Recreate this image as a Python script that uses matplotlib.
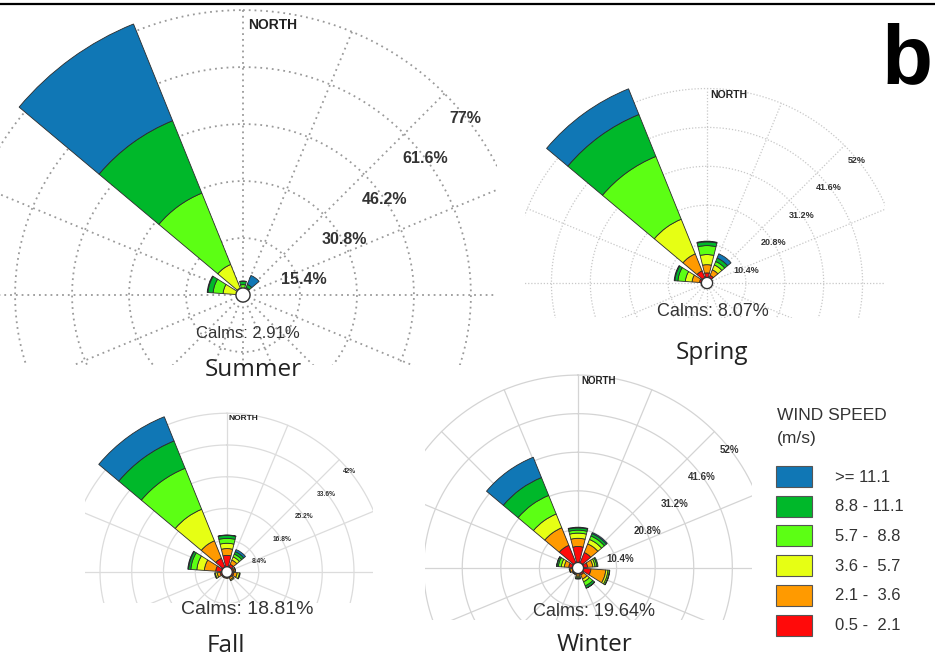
import numpy as np
import matplotlib
matplotlib.use("Agg")
import matplotlib.pyplot as plt
from matplotlib.patches import Rectangle
from matplotlib.lines import Line2D

# ---------------- data ----------------
DIRECTIONS = [0, 36, 72, 108, 144, 180, 216, 252, 288, 324]   # sector centres (deg from north)
SPEED_LABELS = ['0.5 -  2.1', '2.1 -  3.6', '3.6 -  5.7', '5.7 -  8.8', '8.8 - 11.1', '>= 11.1']
SPEED_COLORS = ['#FF0A0A', '#FF9A00', '#E6FF14', '#5CFF14', '#00B82A', '#1077B5']

# rows: speed bins (low -> high), cols: DIRECTIONS ; values in % of time
summer_freq = [
    [0.3, 0.3, 0.2, 0.2, 0.2, 0.2, 0.2, 0.2, 0.5, 0.6],
    [0.5, 0.4, 0.2, 0.1, 0.1, 0.1, 0.1, 0.2, 1.0, 1.4],
    [0.8, 0.6, 0.1, 0.0, 0.0, 0.0, 0.0, 0.1, 3.9, 6.9],
    [1.2, 0.9, 0.0, 0.0, 0.0, 0.0, 0.0, 0.0, 2.7, 20.8],
    [0.9, 0.9, 0.0, 0.0, 0.0, 0.0, 0.0, 0.0, 1.4, 21.1],
    [0.1, 2.6, 0.0, 0.0, 0.0, 0.0, 0.0, 0.0, 0.2, 28.2],
]
spring_freq = [
    [2.7, 2.2, 1.2, 1.0, 1.0, 0.9, 0.9, 1.2, 2.0, 3.5],
    [2.2, 1.6, 0.3, 0.2, 0.2, 0.2, 0.2, 0.4, 2.0, 4.9],
    [2.7, 1.4, 0.0, 0.0, 0.0, 0.0, 0.0, 0.0, 1.8, 10.0],
    [2.4, 1.0, 0.0, 0.0, 0.0, 0.0, 0.0, 0.0, 2.0, 18.1],
    [1.0, 1.0, 0.0, 0.0, 0.0, 0.0, 0.0, 0.0, 0.8, 12.1],
    [0.2, 1.2, 0.0, 0.0, 0.0, 0.0, 0.0, 0.0, 0.2, 7.4],
]
fall_freq = [
    [4.4, 2.2, 1.8, 1.8, 1.6, 1.4, 1.4, 1.8, 3.0, 3.9],
    [1.8, 1.2, 0.4, 0.9, 0.6, 0.3, 0.3, 0.8, 3.0, 5.0],
    [1.4, 0.9, 0.1, 0.6, 0.3, 0.0, 0.0, 0.5, 2.0, 9.0],
    [1.3, 0.8, 0.0, 0.2, 0.0, 0.0, 0.0, 0.2, 1.6, 11.7],
    [0.8, 0.7, 0.0, 0.0, 0.0, 0.0, 0.0, 0.0, 0.6, 7.8],
    [0.1, 0.6, 0.0, 0.0, 0.0, 0.0, 0.0, 0.0, 0.2, 6.9],
]
winter_freq = [
    [5.8, 4.5, 2.6, 3.5, 2.0, 1.6, 1.4, 1.6, 2.5, 6.6],
    [2.2, 2.5, 1.4, 4.0, 1.2, 0.6, 0.4, 0.6, 1.2, 5.1],
    [1.4, 1.3, 0.6, 0.6, 0.8, 0.3, 0.1, 0.2, 0.8, 4.0],
    [0.8, 1.0, 0.5, 0.4, 1.2, 0.3, 0.0, 0.0, 0.8, 5.4],
    [0.6, 0.7, 0.3, 0.1, 0.6, 0.2, 0.0, 0.0, 0.4, 5.2],
    [0.2, 0.3, 0.0, 0.0, 0.1, 0.0, 0.0, 0.0, 0.1, 5.9],
]
summer_rings = [15.4, 30.8, 46.2, 61.6, 77]
spring_rings = [10.4, 20.8, 31.2, 41.6, 52]
fall_rings = [8.4, 16.8, 25.2, 33.6, 42]
winter_rings = [10.4, 20.8, 31.2, 41.6, 52]
CALMS = {'Summer': 2.91, 'Spring': 8.07, 'Fall': 18.81, 'Winter': 19.64}

# ---------------- figure ----------------
W, H = 935, 665
fig = plt.figure(figsize=(W / 100, H / 100), dpi=100)
fig.patch.set_facecolor('white')
SANS = ['Liberation Sans', 'DejaVu Sans']
TITLE_FONT = ['Open Sans', 'DejaVu Sans']


def px_rect(x0, y0, x1, y1):
    return Rectangle((x0 / W, 1 - y1 / H), (x1 - x0) / W, (y1 - y0) / H,
                     transform=fig.transFigure, fill=False)


def rose(name, freq, rings, cx, cy, k, clip, grid, calm_r,
         north_r, north_dx, north_fs, lab_off, lab_fs,
         calm_off, calm_fs, title_off):
    R = 100.0
    ax = fig.add_axes([(cx - R * k) / W, (H - cy - R * k) / H,
                       2 * R * k / W, 2 * R * k / H], projection='polar')
    ax.set_theta_zero_location('N')
    ax.set_theta_direction(-1)
    ax.set_ylim(0, R)
    ax.set_axis_off()
    cliprect = px_rect(*clip)
    gcol, gls, glw = grid
    th = np.linspace(0, 2 * np.pi, 721)
    for r in rings:
        ln, = ax.plot(th, np.full_like(th, r), color=gcol, ls=gls, lw=glw, zorder=1)
        ln.set_clip_path(cliprect)
    for t in np.deg2rad(np.arange(0, 360, 22.5)):
        ln, = ax.plot([t, t], [0, rings[-1]], color=gcol, ls=gls, lw=glw, zorder=1)
        ln.set_clip_path(cliprect)
    theta = np.deg2rad(DIRECTIONS)
    width = np.deg2rad(28)
    cum = np.zeros(len(DIRECTIONS))
    for i, row in enumerate(freq):
        vals = np.array(row, dtype=float)
        m = vals > 0
        ax.bar(theta[m], vals[m], width=width, bottom=cum[m], color=SPEED_COLORS[i],
               edgecolor='#2b2b2b', linewidth=0.6, zorder=2)
        cum += vals
    ax.fill(th, np.full_like(th, calm_r), facecolor='white', edgecolor='#333333',
            lw=1.0, zorder=3)
    ax.annotate('NORTH', xy=(0, north_r), xytext=(north_dx, 0), textcoords='offset pixels',
                ha='left', va='center', fontsize=north_fs, fontweight='bold',
                family=SANS, color='#222222')
    for r in rings:
        ax.annotate(f'{r:g}%', xy=(np.pi / 4, r), xytext=lab_off, textcoords='offset pixels',
                    ha='center', va='center', fontsize=lab_fs, fontweight='bold',
                    family=SANS, color='#333333', zorder=4)
    ax.annotate(f'Calms: {CALMS[name]:.2f}%', xy=(0, 0), xytext=calm_off,
                textcoords='offset pixels', ha='center', va='center',
                fontsize=calm_fs, family=SANS, color='#333333')
    ax.annotate(name, xy=(0, 0), xytext=title_off, textcoords='offset pixels',
                ha='center', va='center', fontsize=17.5, family=TITLE_FONT,
                color='#222222')
    return ax


rose('Summer', summer_freq, summer_rings, 243, 295, 3.70, (0, 8, 497, 365),
     ('#9a9a9a', (0, (1, 2.2)), 1.3), 1.9, 73, 5, 10,
     (21, -25), 11.5, (5, -38), 12, (10, -75))
rose('Spring', spring_freq, spring_rings, 707, 283, 3.74, (525, 85, 885, 318),
     ('#c8c8c8', (0, (1, 1.5)), 0.9), 1.5, 50.4, 3, 7.5,
     (12, -15), 6.5, (6, -28), 13, (5, -70))
rose('Fall', fall_freq, fall_rings, 227, 572, 3.78, (85, 408, 373, 603),
     ('#dcdcdc', '-', 0.9), 1.4, 40.5, 2, 6,
     (10, -12), 4.8, (20, -37), 14, (-1, -74))
rose('Winter', winter_freq, winter_rings, 578, 568, 3.71, (425, 372, 752, 620),
     ('#d4d4d4', '-', 0.9), 1.5, 50.4, 3, 7,
     (15, -18), 7, (16, -44), 13, (17, -77))

# ---------------- legend ----------------
fig.text(777 / W, 1 - 415 / H, 'WIND SPEED', ha='left', va='center', fontsize=12.5,
         family=SANS, color='#333333')
fig.text(777 / W, 1 - 438 / H, '(m/s)', ha='left', va='center', fontsize=12.5,
         family=SANS, color='#333333')
for j in range(len(SPEED_LABELS)):
    idx = len(SPEED_LABELS) - 1 - j
    ytop = 466 + j * 29.7
    fig.add_artist(Rectangle((776 / W, 1 - (ytop + 21) / H), 36 / W, 21 / H,
                             transform=fig.transFigure, facecolor=SPEED_COLORS[idx],
                             edgecolor='#555555', lw=0.8))
    fig.text(835 / W, 1 - (ytop + 11) / H, SPEED_LABELS[idx], ha='left', va='center',
             fontsize=12, family=SANS, color='#333333')

# ---------------- frame elements ----------------
fig.add_artist(Line2D([0, 1], [1 - 4 / H] * 2, color='black', lw=1.6,
                      transform=fig.transFigure))
fig.text(932 / W, 1 - 83 / H, 'b', ha='right', va='baseline', fontsize=60,
         fontweight='bold', family=SANS, color='black')

fig.savefig('out.png', dpi=100, facecolor='white')
